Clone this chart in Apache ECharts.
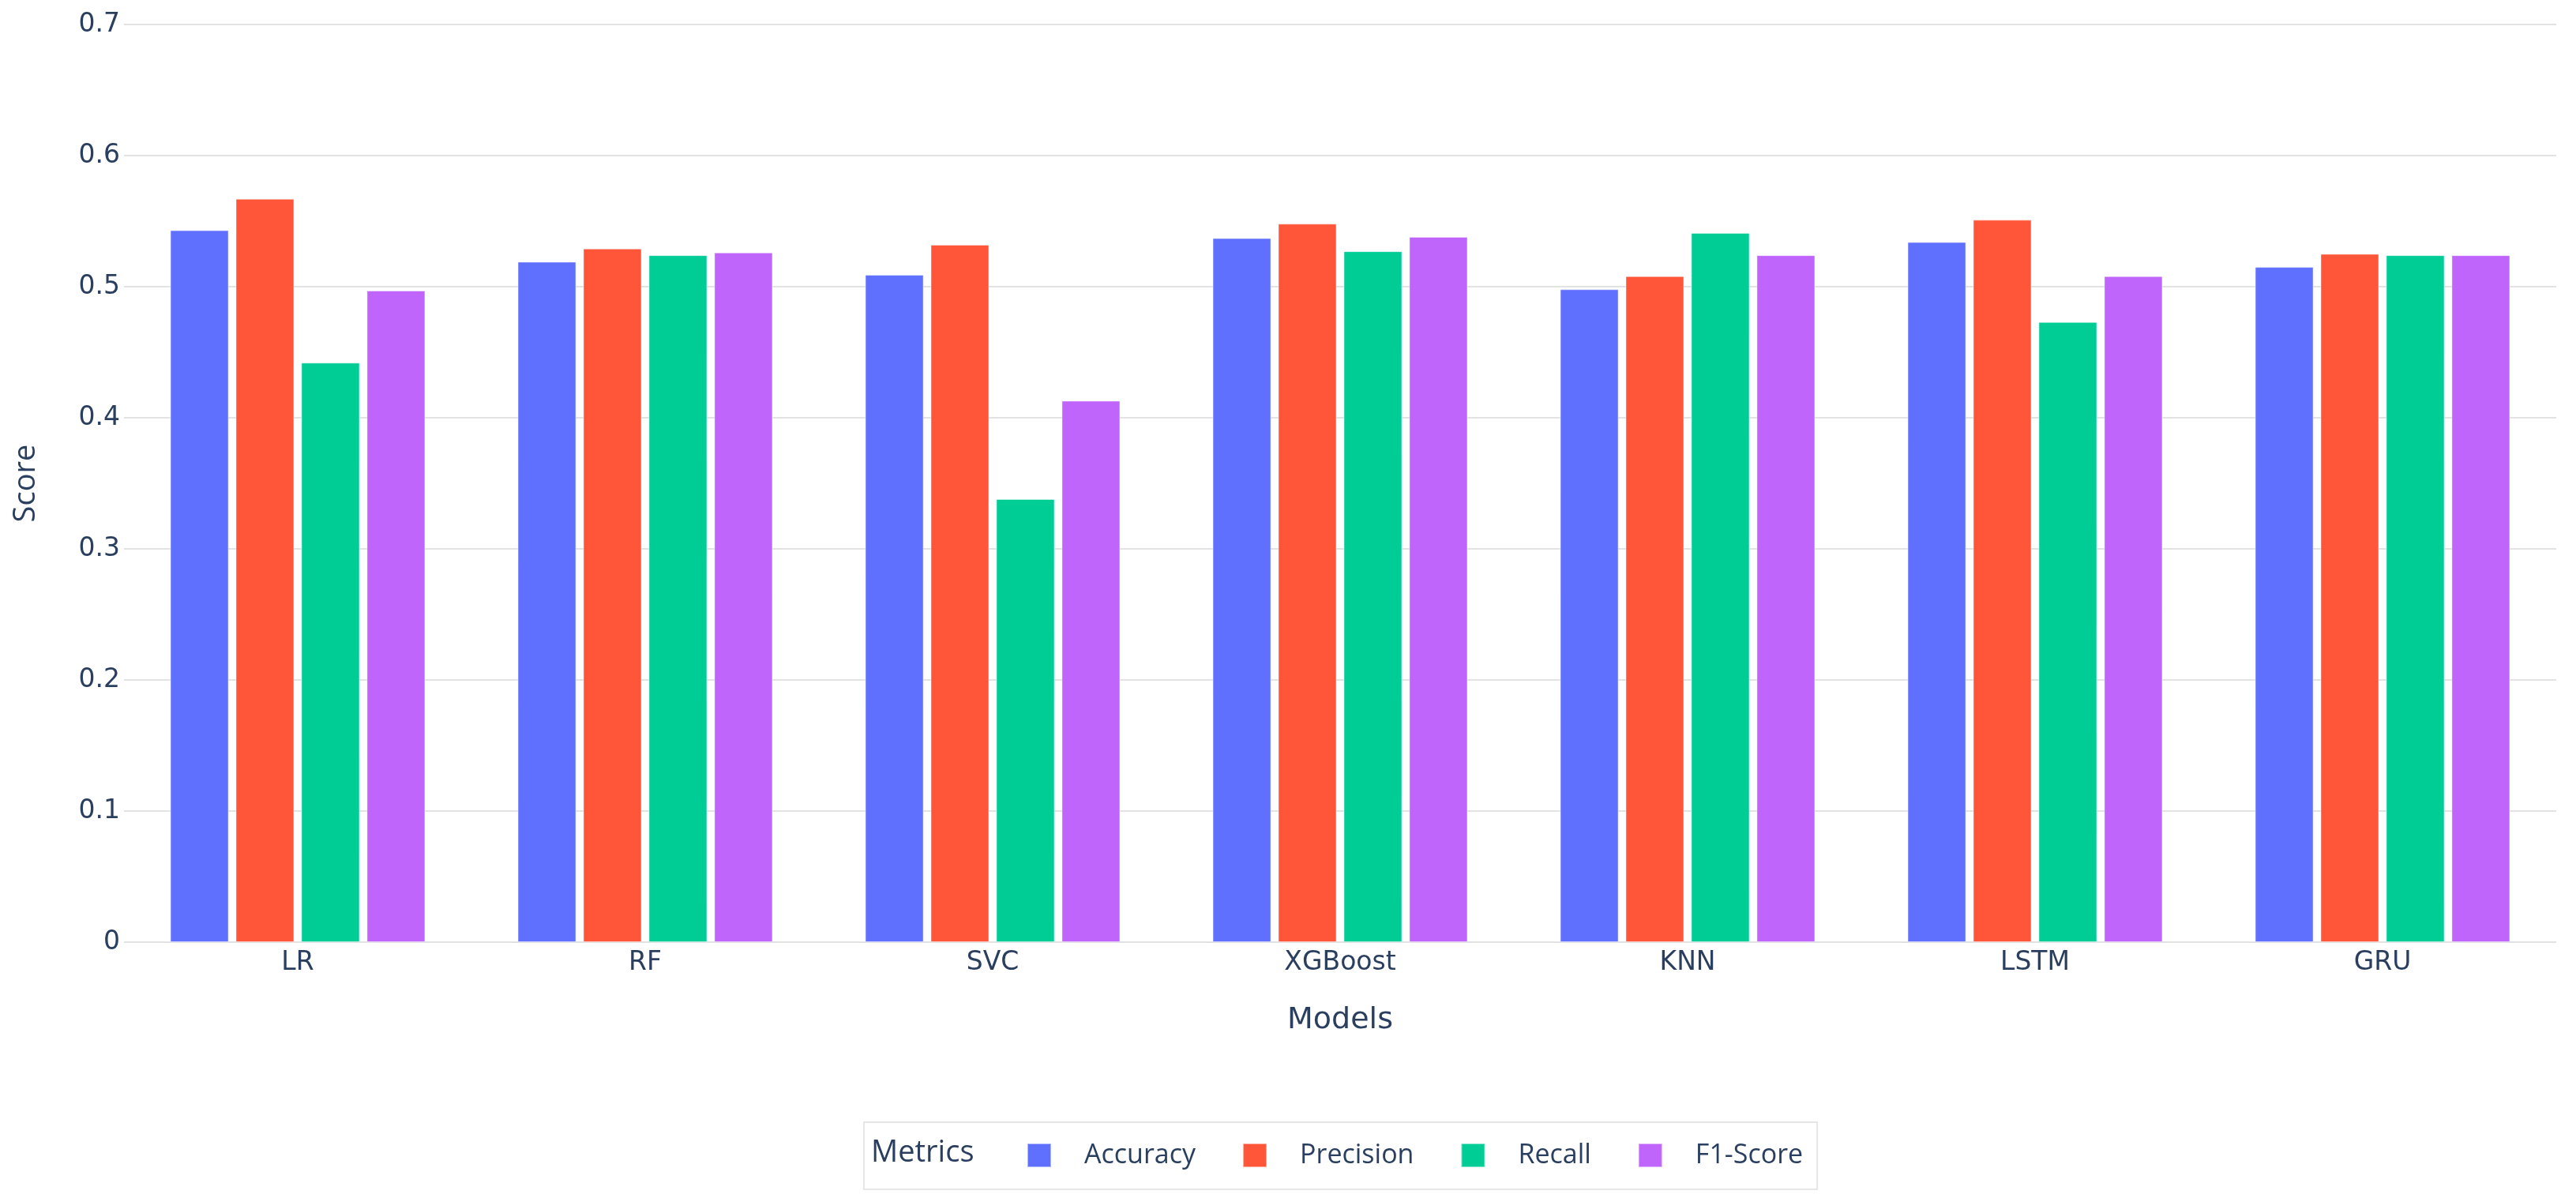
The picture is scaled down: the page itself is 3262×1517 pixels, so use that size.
<!DOCTYPE html>
<html>
<head>
<meta charset="utf-8">
<script src="https://cdn.jsdelivr.net/npm/echarts@6/dist/echarts.min.js"></script>
<style>
  html, body { margin: 0; padding: 0; background: #fff; }
  #chart { width: 3262px; height: 1517px; }
</style>
</head>
<body>
<div id="chart"></div>
<script>
const models = ['LR', 'RF', 'SVC', 'XGBoost', 'KNN', 'LSTM', 'GRU'];
const metrics = ['Accuracy', 'Precision', 'Recall', 'F1-Score'];
const accuracy  = [0.543, 0.519, 0.509, 0.537, 0.498, 0.534, 0.515];
const precision = [0.567, 0.529, 0.532, 0.548, 0.508, 0.551, 0.525];
const recall    = [0.442, 0.524, 0.338, 0.527, 0.541, 0.473, 0.524];
const f1score   = [0.497, 0.526, 0.413, 0.538, 0.524, 0.508, 0.524];
const colors = ['#6070FE', '#FF5538', '#00CC96', '#C065FB'];

const values = [accuracy, precision, recall, f1score];
const textColor = '#2a3f5f';

let myChart = echarts.init(document.getElementById('chart'));

let series = metrics.map((name, i) => ({
  name: name,
  type: 'bar',
  data: values[i],
  barGap: '12%',
  barCategoryGap: '26.6%',
  itemStyle: {
    color: colors[i],
    borderColor: 'rgba(255,255,255,0.5)',
    borderWidth: 1
  }
}));

let option = {
  animation: false,
  backgroundColor: '#fff',
  grid: {
    left: 157,
    right: 25,
    top: 31,
    bottom: 324
  },
  xAxis: {
    type: 'category',
    data: models,
    name: 'Models',
    nameLocation: 'middle',
    nameGap: 80,
    nameTextStyle: { color: textColor, fontSize: 38, fontFamily: 'DejaVu Sans' },
    axisLine: { show: false },
    axisTick: { show: false },
    axisLabel: { color: textColor, fontSize: 33, fontFamily: 'DejaVu Sans', margin: 10 }
  },
  yAxis: {
    type: 'value',
    min: 0,
    max: 0.7,
    interval: 0.1,
    name: 'Score',
    nameLocation: 'middle',
    nameGap: 105,
    nameTextStyle: { color: textColor, fontSize: 38, fontFamily: 'Open Sans' },
    axisLabel: {
      color: textColor,
      fontSize: 33,
      fontFamily: 'DejaVu Sans',
      margin: 5,
      formatter: v => v === 0 ? '0' : v.toFixed(1)
    },
    splitLine: { lineStyle: { color: '#e2e2e2', width: 2 } }
  },
  legend: {
    data: metrics,
    orient: 'horizontal',
    left: 1094,
    top: 1421,
    icon: 'rect',
    itemWidth: 30,
    itemHeight: 30,
    itemGap: 59,
    padding: [25, 18, 26, 206],
    borderColor: '#e6e6e6',
    borderWidth: 2,
    textStyle: {
      color: textColor,
      fontSize: 34,
      fontFamily: 'Open Sans',
      padding: [0, 0, 0, 37]
    }
  },
  graphic: [
    {
      type: 'text',
      x: 1103,
      y: 1460,
      style: {
        text: 'Metrics',
        fill: textColor,
        fontSize: 38,
        fontFamily: 'Open Sans',
        verticalAlign: 'middle'
      }
    }
  ],
  series: series
};

myChart.setOption(option);
</script>
</body>
</html>
